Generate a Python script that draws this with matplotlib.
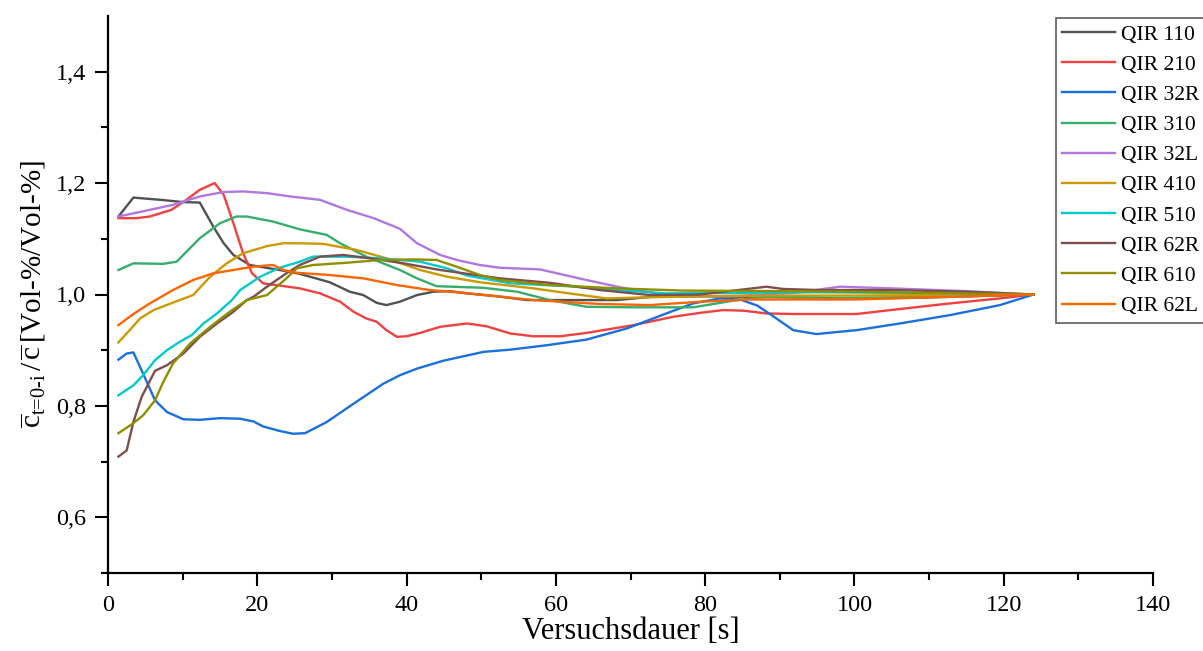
import matplotlib
matplotlib.use("Agg")
import matplotlib.pyplot as plt
from matplotlib.ticker import MultipleLocator, FuncFormatter

# series (time in s, normalized concentration)
labels = ["QIR 110", "QIR 210", "QIR 32R", "QIR 310", "QIR 32L",
          "QIR 410", "QIR 510", "QIR 62R", "QIR 610", "QIR 62L"]
colors = ["#515151", "#F14040", "#1A6FDF", "#37AD6B", "#B177DE",
          "#CC9900", "#00CBCC", "#7D4E4E", "#8E8E00", "#FB6501"]

x_110 = [1.4, 3.4, 7, 10, 12.3, 14.1, 15.5, 16.8, 19.0, 23.0, 25.7, 29.7, 32.4, 34.2, 36.0, 37.3, 39.1,
         41.4, 43.6, 45.8, 48.1, 52, 56.1, 62, 68.1, 73, 78, 85, 92, 100, 108, 116, 124]
y_110 = [1.140, 1.174, 1.170, 1.166, 1.165, 1.122, 1.092, 1.071, 1.053, 1.044, 1.037, 1.022, 1.005, 0.999,
         0.985, 0.981, 0.987, 0.999, 1.005, 1.006, 1.002, 0.997, 0.990, 0.990, 0.990, 0.996, 0.997, 0.996,
         0.995, 0.993, 0.994, 0.997, 1.0]

x_210 = [1.4, 3.8, 5.6, 8.5, 10.5, 12.3, 14.3, 15.5, 16.8, 18.1, 19.3, 20.8, 23.0, 25.7, 28.4, 31.1, 32.9,
         34.6, 36.0, 37.3, 38.7, 40.0, 41.8, 44.5, 48.1, 50.7, 53.9, 57.0, 60.6, 64.1, 70.4, 75.7, 79.3,
         82.4, 85.1, 88.2, 91.8, 96, 100.3, 104.8, 112.8, 119.5, 124]
y_210 = [1.137, 1.137, 1.140, 1.152, 1.170, 1.188, 1.200, 1.179, 1.128, 1.074, 1.038, 1.020, 1.016, 1.011,
         1.002, 0.987, 0.969, 0.957, 0.951, 0.936, 0.924, 0.925, 0.931, 0.942, 0.948, 0.943, 0.930, 0.925,
         0.925, 0.931, 0.945, 0.960, 0.967, 0.972, 0.971, 0.966, 0.965, 0.965, 0.965, 0.972, 0.984, 0.993, 1.0]

x_32r = [1.4, 2.5, 3.4, 4.7, 6.3, 7.9, 10.1, 12.3, 15.0, 17.7, 19.5, 20.8, 23.0, 24.8, 26.4, 29.3, 32.9,
         36.9, 39.1, 41.4, 44.9, 50.3, 53.9, 58.8, 64.1, 69.5, 74.8, 78.4, 82.0, 84.7, 87.0, 89.0, 91.8,
         94.9, 100.3, 106.1, 112.8, 119.5, 124]
y_32r = [0.883, 0.894, 0.896, 0.858, 0.810, 0.789, 0.776, 0.775, 0.778, 0.777, 0.772, 0.763, 0.755, 0.750,
         0.751, 0.771, 0.804, 0.840, 0.855, 0.867, 0.881, 0.897, 0.901, 0.909, 0.919, 0.939, 0.966, 0.984,
         0.993, 0.991, 0.980, 0.962, 0.936, 0.929, 0.936, 0.948, 0.963, 0.981, 1.0]

x_310 = [1.4, 3.4, 7.4, 9.2, 12.3, 15.0, 17.2, 18.6, 22.1, 25.7, 29.3, 31.1, 34.6, 39.1, 41.4, 44.0, 50.3,
         54.8, 59.2, 64.1, 70.4, 78.4, 83.8, 88.2, 96, 105, 115, 124]
y_310 = [1.044, 1.056, 1.055, 1.059, 1.101, 1.128, 1.140, 1.140, 1.131, 1.117, 1.107, 1.092, 1.068, 1.044,
         1.029, 1.015, 1.012, 1.005, 0.990, 0.978, 0.977, 0.977, 0.989, 0.996, 0.993, 0.995, 0.997, 1.0]

x_32l = [1.4, 5.6, 8.7, 12.3, 15.5, 18.1, 21.3, 24.4, 28.4, 32.0, 35.6, 39.1, 41.4, 44.5, 46.7, 49.8, 52.5,
         57.9, 64.1, 68.6, 74.0, 77.5, 85, 92, 98.1, 105, 115, 124]
y_32l = [1.140, 1.152, 1.161, 1.176, 1.184, 1.185, 1.182, 1.176, 1.170, 1.152, 1.137, 1.118, 1.092, 1.071,
         1.062, 1.053, 1.048, 1.045, 1.026, 1.013, 1.001, 0.996, 0.998, 1.003, 1.014, 1.011, 1.006, 1.0]

x_410 = [1.4, 2.9, 4.3, 6.1, 9.6, 11.4, 13.7, 15.9, 18.1, 21.3, 23.5, 25.7, 28.8, 33.3, 37.3, 41.8, 45.4,
         49.8, 57.0, 62.3, 66.8, 72.6, 80, 90, 100, 110, 124]
y_410 = [0.914, 0.936, 0.957, 0.972, 0.990, 0.999, 1.032, 1.056, 1.074, 1.087, 1.092, 1.092, 1.091, 1.080,
         1.065, 1.044, 1.032, 1.022, 1.011, 1.001, 0.993, 0.995, 0.997, 0.998, 0.998, 0.999, 1.0]

x_510 = [1.4, 3.4, 4.7, 6.3, 7.9, 9.6, 11.2, 12.8, 14.6, 16.6, 17.7, 20.4, 23.0, 25.7, 27.5, 32.0, 36.4,
         41.8, 45.4, 48.1, 53.9, 61.5, 68.1, 74.8, 85, 95, 105, 115, 124]
y_510 = [0.819, 0.837, 0.855, 0.882, 0.900, 0.915, 0.927, 0.948, 0.966, 0.990, 1.008, 1.032, 1.048, 1.059,
         1.068, 1.068, 1.065, 1.059, 1.047, 1.034, 1.020, 1.015, 1.008, 1.002, 1.003, 1.004, 1.003, 1.002, 1.0]

x_62r = [1.4, 2.5, 3.4, 4.5, 6.3, 7.9, 10.1, 12.3, 14.6, 16.8, 18.6, 19.5, 21.3, 23.9, 25.7, 28.4, 31.5,
         35.1, 39.6, 44.5, 49.8, 52.5, 59.2, 65.9, 72.6, 79.3, 83.8, 88.2, 90.4, 95, 105, 115, 124]
y_62r = [0.709, 0.720, 0.771, 0.816, 0.863, 0.873, 0.894, 0.924, 0.948, 0.969, 0.990, 0.996, 1.014, 1.038,
         1.053, 1.068, 1.071, 1.065, 1.056, 1.044, 1.034, 1.029, 1.021, 1.008, 0.999, 1.000, 1.007, 1.014,
         1.010, 1.008, 1.008, 1.005, 1.0]

x_610 = [1.4, 3.4, 4.7, 6.3, 7.4, 8.7, 11.0, 13.7, 16.3, 18.6, 21.3, 23.9, 25.3, 27.5, 32.0, 36.4, 40.9,
         44.0, 46.7, 49.8, 52.5, 59.2, 68.1, 77.1, 90, 100, 110, 124]
y_610 = [0.751, 0.769, 0.783, 0.810, 0.843, 0.876, 0.912, 0.942, 0.969, 0.990, 0.999, 1.029, 1.047, 1.053,
         1.057, 1.062, 1.063, 1.062, 1.050, 1.035, 1.026, 1.017, 1.011, 1.007, 1.006, 1.005, 1.003, 1.0]

x_62l = [1.4, 3.4, 5.6, 8.7, 11.4, 14.1, 16.8, 19.5, 22.1, 23.5, 25.3, 29.7, 34.2, 38.7, 43.1, 47.6, 52,
         57.0, 65.9, 72.6, 79.3, 86.0, 92.7, 100, 110, 124]
y_62l = [0.945, 0.965, 0.984, 1.008, 1.026, 1.038, 1.044, 1.050, 1.053, 1.044, 1.039, 1.035, 1.029, 1.017,
         1.008, 1.003, 0.997, 0.990, 0.983, 0.981, 0.987, 0.991, 0.991, 0.991, 0.995, 1.0]

xs = [x_110, x_210, x_32r, x_310, x_32l, x_410, x_510, x_62r, x_610, x_62l]
ys = [y_110, y_210, y_32r, y_310, y_32l, y_410, y_510, y_62r, y_610, y_62l]

plt.rcParams['font.family'] = ['Liberation Serif', 'DejaVu Serif']
plt.rcParams['mathtext.fontset'] = 'custom'
plt.rcParams['mathtext.rm'] = 'Liberation Serif'
plt.rcParams['mathtext.it'] = 'Liberation Serif:italic'

fig = plt.figure(figsize=(12.03, 6.51), dpi=100)
ax = fig.add_axes([108 / 1203, 1 - 573 / 651, (1153 - 108) / 1203, (573 - 16) / 651])

for x, y, lab, col in zip(xs, ys, labels, colors):
    ax.plot(x, y, color=col, lw=1.7, label=lab)

ax.set_xlim(0, 140)
ax.set_ylim(0.5, 1.5)
ax.xaxis.set_major_locator(MultipleLocator(20))
ax.xaxis.set_minor_locator(MultipleLocator(10))
ax.set_yticks([0.6, 0.8, 1.0, 1.2, 1.4])
ax.set_yticks([0.5, 0.7, 0.9, 1.1, 1.3], minor=True)
ax.yaxis.set_major_formatter(FuncFormatter(lambda v, p: f"{v:.1f}".replace(".", ",")))

for s in ["top", "right"]:
    ax.spines[s].set_visible(False)
for s in ["left", "bottom"]:
    ax.spines[s].set_linewidth(1.6)
ax.tick_params(which="major", direction="out", length=9.5, width=1.5, labelsize=17.5, pad=6)
ax.tick_params(which="minor", direction="out", length=5, width=1.5)

ax.set_xlabel("Versuchsdauer [s]", fontsize=22, labelpad=1)
ax.set_ylabel(r"$\overline{\mathrm{c}}_{\text{t=0-i}}\,/\,\overline{\mathrm{c}}\,$[Vol-%/Vol-%]",
              fontsize=21, labelpad=6)

leg = fig.legend(loc="upper left", bbox_to_anchor=(1056 / 1203, 1 - 18 / 651), fontsize=15.5,
                 frameon=True, fancybox=False, borderaxespad=0, handlelength=2.45,
                 labelspacing=0.47, borderpad=0.3, handletextpad=0.25)
leg.get_frame().set_edgecolor("#333333")
leg.get_frame().set_linewidth(1.2)

fig.savefig("out.png", dpi=100)
